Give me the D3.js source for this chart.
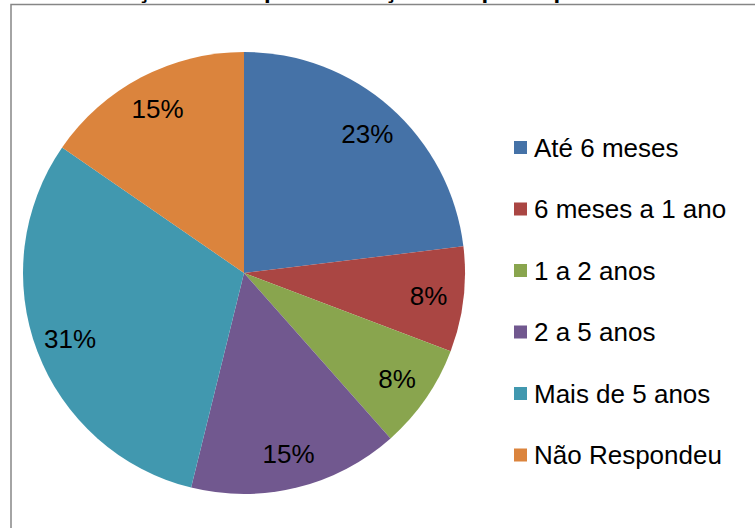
<!DOCTYPE html>
<html>
<head>
<meta charset="utf-8">
<script src="https://cdn.jsdelivr.net/npm/d3@7"></script>
<style>
  body { margin: 0; background: #fff; }
  svg { display: block; font-family: "Liberation Sans", Arial, sans-serif; }
</style>
</head>
<body>
<script>
const categories = ["Até 6 meses", "6 meses a 1 ano", "1 a 2 anos", "2 a 5 anos", "Mais de 5 anos", "Não Respondeu"];
const counts = [3, 1, 1, 2, 4, 2];
const percentLabels = ["23%", "8%", "8%", "15%", "31%", "15%"];
const colors = ["#4572A7", "#AA4643", "#89A54E", "#71588F", "#4198AF", "#DB843D"];
const title = "Distribuição do tempo de atuação dos participantes";

const width = 755, height = 528;

const svg = d3.select("body")
    .append("svg")
    .attr("width", width)
    .attr("height", height);

// chart frame (right and bottom edges fall outside the window)
svg.append("rect")
    .attr("x", 11)
    .attr("y", 4.5)
    .attr("width", 800)
    .attr("height", 600)
    .attr("fill", "none")
    .attr("stroke", "#868686")
    .attr("stroke-width", 1.5);

// title sits above the frame, only its descenders show
svg.append("text")
    .attr("x", 40)
    .attr("y", -2)
    .attr("font-size", "24px")
    .attr("font-weight", "bold")
    .text(title);

const cx = 244, cy = 273, radius = 221;

const pie = d3.pie().sort(null).value(d => d);
const arcs = pie(counts);
const arc = d3.arc().innerRadius(0).outerRadius(radius);
const labelArc = d3.arc().innerRadius(186).outerRadius(186);

const g = svg.append("g").attr("transform", `translate(${cx},${cy})`);

g.selectAll("path")
    .data(arcs)
    .join("path")
    .attr("d", arc)
    .attr("fill", (d, i) => colors[i]);

g.selectAll("text")
    .data(arcs)
    .join("text")
    .attr("transform", d => `translate(${labelArc.centroid(d)})`)
    .attr("text-anchor", "middle")
    .attr("dy", "0.36em")
    .attr("font-size", "26px")
    .attr("fill", "#000")
    .text((d, i) => percentLabels[i]);

// legend
const legend = svg.append("g")
    .attr("transform", "translate(514,147.5)")
    .selectAll("g")
    .data(categories)
    .join("g")
    .attr("transform", (d, i) => `translate(0,${i * 61.5})`);

legend.append("rect")
    .attr("x", 0)
    .attr("y", -6.5)
    .attr("width", 13)
    .attr("height", 13)
    .attr("fill", (d, i) => colors[i]);

legend.append("text")
    .attr("x", 20)
    .attr("dy", "0.36em")
    .attr("font-size", "26px")
    .attr("fill", "#000")
    .text(d => d);
</script>
</body>
</html>
